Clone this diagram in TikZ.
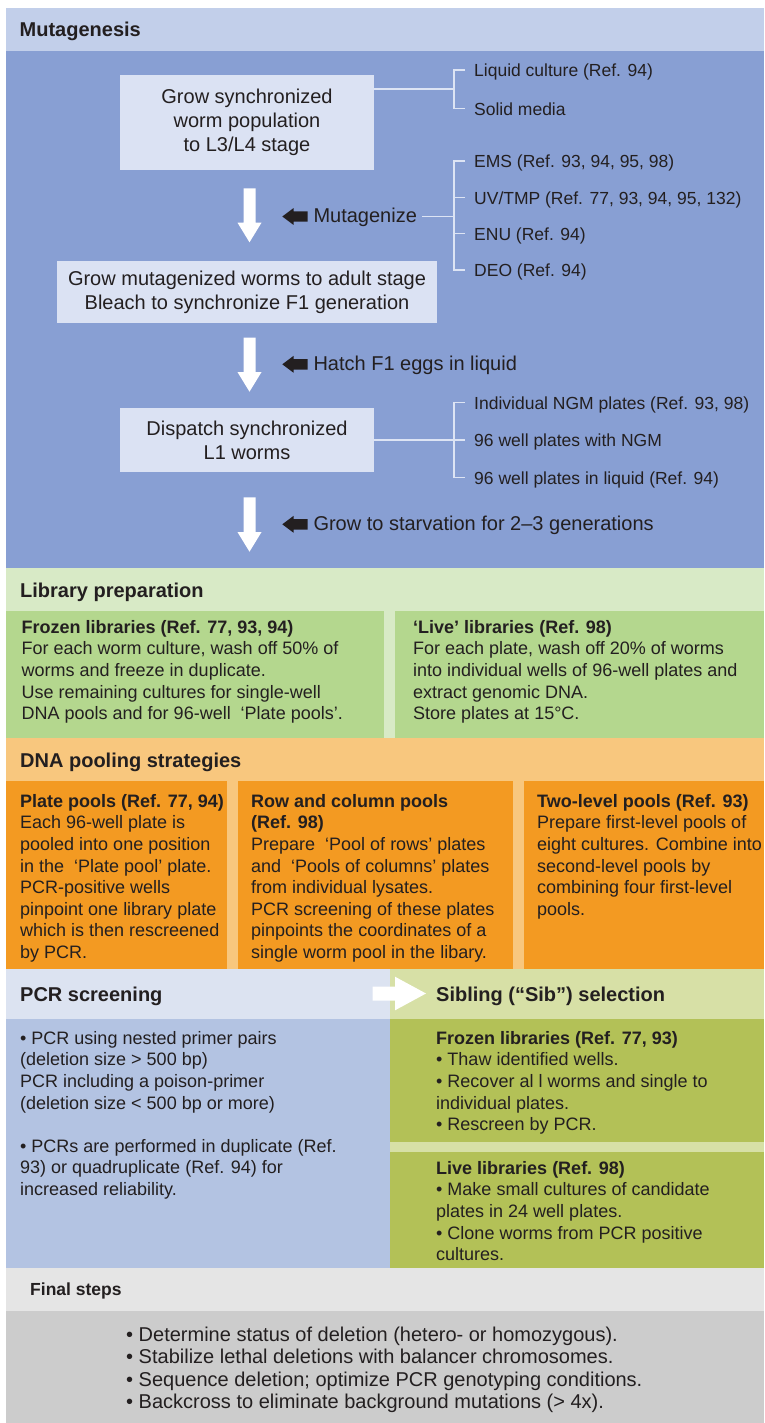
\documentclass[tikz,border=0pt]{standalone}
\usepackage{fontspec}
\setmainfont{Liberation Sans}
\definecolor{ink}{HTML}{231F20}
\definecolor{mhead}{HTML}{C2CFEA}
\definecolor{mbody}{HTML}{889FD3}
\definecolor{boxc}{HTML}{DBE2F3}
\definecolor{linec}{HTML}{DDE4F4}
\definecolor{lhead}{HTML}{D8EAC6}
\definecolor{lbox}{HTML}{B4D78E}
\definecolor{dhead}{HTML}{F8C77E}
\definecolor{dbox}{HTML}{F39A22}
\definecolor{phead}{HTML}{DCE3F1}
\definecolor{pbody}{HTML}{B3C3E2}
\definecolor{shead}{HTML}{D7E0A6}
\definecolor{sbox}{HTML}{B3C157}
\definecolor{fhead}{HTML}{E5E5E5}
\definecolor{fbody}{HTML}{CCCCCC}
\tikzset{
  headtxt/.style={inner sep=0pt, anchor=base west, text=ink, font=\fontsize{20}{24}\selectfont\bfseries},
  sidetxt/.style={inner sep=0pt, anchor=base west, text=ink, font=\fontsize{17.5}{21}\selectfont},
  arrtxt/.style={inner sep=0pt, anchor=base west, text=ink, font=\fontsize{20}{24}\selectfont},
  para/.style={inner sep=0pt, anchor=north west, align=left, text=ink, font=\fontsize{18}{21.6}\selectfont},
  finalpara/.style={inner sep=0pt, anchor=north west, align=left, text=ink, font=\fontsize{20}{22.6}\selectfont},
  stepbox/.style={fill=boxc, inner sep=0pt, align=center, text=ink, font=\fontsize{20}{24}\selectfont},
  brk/.style={draw=linec, line width=1.5pt, line join=miter},
}
\newcommand\wdown[2]{\fill[white] (243.5,#1) -- (255.5,#1) -- (255.5,{#2-19.6}) -- (261.5,{#2-19.6}) -- (249.5,#2) -- (237.5,{#2-19.6}) -- (243.5,{#2-19.6}) -- cycle;}
\newcommand\bleft[1]{\fill[ink] (282.3,#1) -- (293.5,{#1-8.4}) -- (293.5,{#1-5.2}) -- (307.5,{#1-5.2}) -- (307.5,{#1+5.2}) -- (293.5,{#1+5.2}) -- (293.5,{#1+8.4}) -- cycle;}
\begin{document}
\begin{tikzpicture}[x=1pt,y=-1pt]
\useasboundingbox (0,0) rectangle (764,1423);
% ---------- backgrounds ----------
\fill[mhead] (5.5,8) rectangle (764,51.5);
\fill[mbody] (5.5,51.5) rectangle (764,568);
\fill[lhead] (5.5,568) rectangle (764,738);
\fill[lbox] (5.5,611) rectangle (384,738);
\fill[lbox] (395,611) rectangle (764,738);
\fill[dhead] (5.5,738) rectangle (764,969);
\fill[dbox] (5.5,781) rectangle (227,969);
\fill[dbox] (238,781) rectangle (513,969);
\fill[dbox] (524,781) rectangle (764,969);
\fill[phead] (5.5,969) rectangle (390,1019);
\fill[shead] (390,969) rectangle (764,1268);
\fill[pbody] (5.5,1019) rectangle (390,1268);
\fill[sbox] (390,1019) rectangle (764,1142);
\fill[sbox] (390,1152) rectangle (764,1268);
\fill[fhead] (5.5,1268) rectangle (764,1311);
\fill[fbody] (5.5,1311) rectangle (764,1423);

% ---------- Mutagenesis ----------
\node[headtxt] (hmut) at (19.5,37) {Mutagenesis};
\node[stepbox, minimum width=254pt, minimum height=95pt] (box1) at (247,122.5)
  {Grow synchronized\\worm population\\to L3/L4 stage};
\node[stepbox, minimum width=380pt, minimum height=62pt] (box2) at (247,292)
  {Grow mutagenized worms to adult stage\\Bleach to synchronize F1 generation};
\node[stepbox, minimum width=254pt, minimum height=64pt] (box3) at (247,440)
  {Dispatch synchronized\\L1 worms};

\node[sidetxt] (liq) at (474,76.8) {Liquid culture (Ref. 94)};
\node[sidetxt] (sol) at (474,115.1) {Solid media};
\node[sidetxt] (ems) at (474,167.8) {EMS (Ref. 93, 94, 95, 98)};
\node[sidetxt] (uv) at (474,204.1) {UV/TMP (Ref. 77, 93, 94, 95, 132)};
\node[sidetxt] (enu) at (474,240.4) {ENU (Ref. 94)};
\node[sidetxt] (deo) at (474,276.8) {DEO (Ref. 94)};
\node[sidetxt] (ngm1) at (474,409.1) {Individual NGM plates (Ref. 93, 98)};
\node[sidetxt] (ngm2) at (474,446.8) {96 well plates with NGM};
\node[sidetxt] (ngm3) at (474,484.5) {96 well plates in liquid (Ref. 94)};

\node[arrtxt] (mut) at (313.3,222.5) {Mutagenize};
\node[arrtxt] (hatch) at (313.3,370.8) {Hatch F1 eggs in liquid};
\node[arrtxt] (starve) at (313.3,530.8) {Grow to starvation for 2–3 generations};

% brackets
\coordinate (b1) at (454,89);
\coordinate (b2) at (454,216.5);
\coordinate (b3) at (454,440);
\draw[brk] ([xshift=-9pt,yshift=6.8pt]liq.base west) -- ([xshift=-20pt,yshift=6.8pt]liq.base west)
  -- ([xshift=-20pt,yshift=6.8pt]sol.base west) -- ([xshift=-9pt,yshift=6.8pt]sol.base west);
\draw[brk] (box1.east |- b1) -- (b1);
\draw[brk] ([xshift=-9pt,yshift=6.8pt]ems.base west) -- ([xshift=-20pt,yshift=6.8pt]ems.base west)
  -- ([xshift=-20pt,yshift=6.8pt]deo.base west) -- ([xshift=-9pt,yshift=6.8pt]deo.base west);
\draw[brk] ([xshift=-9pt,yshift=6.8pt]uv.base west) -- ([xshift=-20pt,yshift=6.8pt]uv.base west);
\draw[brk] ([xshift=-9pt,yshift=6.8pt]enu.base west) -- ([xshift=-20pt,yshift=6.8pt]enu.base west);
\draw[brk] ([xshift=5pt]mut.east |- b2) -- (b2);
\draw[brk] ([xshift=-9pt,yshift=6.8pt]ngm1.base west) -- ([xshift=-20pt,yshift=6.8pt]ngm1.base west)
  -- ([xshift=-20pt,yshift=6.8pt]ngm3.base west) -- ([xshift=-9pt,yshift=6.8pt]ngm3.base west);
\draw[brk] (box3.east |- b3) -- ([xshift=-9pt]ngm2.west |- b3);

% arrows
\wdown{188.3}{242.3}
\wdown{337.7}{391.7}
\wdown{497.3}{551.7}
\bleft{216.5}
\bleft{364.3}
\bleft{524.3}

% ---------- Library preparation ----------
\node[headtxt] (hlib) at (20,597) {Library preparation};
\node[para] (frozen) at (21.5,617.9)
  {\strut\textbf{Frozen libraries (Ref. 77, 93, 94)}\\
   For each worm culture, wash off 50\% of\\
   worms and freeze in duplicate.\\
   Use remaining cultures for single-well\\
   DNA pools and for 96-well\ \ ‘Plate pools’.};
\node[para] (live) at (413,617.9)
  {\strut\textbf{‘Live’ libraries (Ref. 98)}\\
   For each plate, wash off 20\% of worms\\
   into individual wells of 96-well plates and\\
   extract genomic DNA.\\
   Store plates at 15\textdegree C.};

% ---------- DNA pooling ----------
\node[headtxt] (hdna) at (20,767) {DNA pooling strategies};
\node[para] (plate) at (20,792)
  {\strut\textbf{Plate pools (Ref. 77, 94)}\\
   Each 96-well plate is\\
   pooled into one position\\
   in the\ \ ‘Plate pool’ plate.\\
   PCR-positive wells\\
   pinpoint one library plate\\
   which is then rescreened\\
   by PCR.};
\node[para] (rowcol) at (251,792)
  {\strut\textbf{Row and column pools}\\
   \textbf{(Ref. 98)}\\
   Prepare\ \ ‘Pool of rows’ plates\\
   and\ \ ‘Pools of columns’ plates\\
   from individual lysates.\\
   PCR screening of these plates\\
   pinpoints the coordinates of a\\
   single worm pool in the libary.};
\node[para] (twolev) at (537,792)
  {\strut\textbf{Two-level pools (Ref. 93)}\\
   Prepare first-level pools of\\
   eight cultures. Combine into\\
   second-level pools by\\
   combining four first-level\\
   pools.};

% ---------- PCR screening / Sib selection ----------
\node[headtxt] (hpcr) at (20,1001) {PCR screening};
\node[headtxt] (hsib) at (436,1001) {Sibling (“Sib”) selection};
\fill[white] (372.7,986.5) -- (395,986.5) -- (395,976.7) -- (426,993.5) -- (395,1010.3) -- (395,1000.5) -- (372.7,1000.5) -- cycle;
\node[para] (pcrtxt) at (20,1029)
  {\strut• PCR using nested primer pairs\\
   (deletion size > 500 bp)\\
   PCR including a poison-primer\\
   (deletion size < 500 bp or more)\\[21.6pt]
   • PCRs are performed in duplicate (Ref.\\
   93) or quadruplicate (Ref. 94) for\\
   increased reliability.};
\node[para] (sibfrozen) at (436,1029)
  {\strut\textbf{Frozen libraries (Ref. 77, 93)}\\
   • Thaw identified wells.\\
   • Recover al l worms and single to\\
   individual plates.\\
   • Rescreen by PCR.};
\node[para] (siblive) at (436,1159)
  {\strut\textbf{Live libraries (Ref. 98)}\\
   • Make small cultures of candidate\\
   plates in 24 well plates.\\
   • Clone worms from PCR positive\\
   cultures.};

% ---------- Final steps ----------
\node[inner sep=0pt, anchor=base west, text=ink, font=\fontsize{17.5}{21}\selectfont\bfseries] (hfin) at (30,1295.5) {Final steps};
\node[finalpara] (fintxt) at (126,1325)
  {\strut• Determine status of deletion (hetero- or homozygous).\\
   • Stabilize lethal deletions with balancer chromosomes.\\
   • Sequence deletion; optimize PCR genotyping conditions.\\
   • Backcross to eliminate background mutations (> 4x).};
\end{tikzpicture}
\end{document}
